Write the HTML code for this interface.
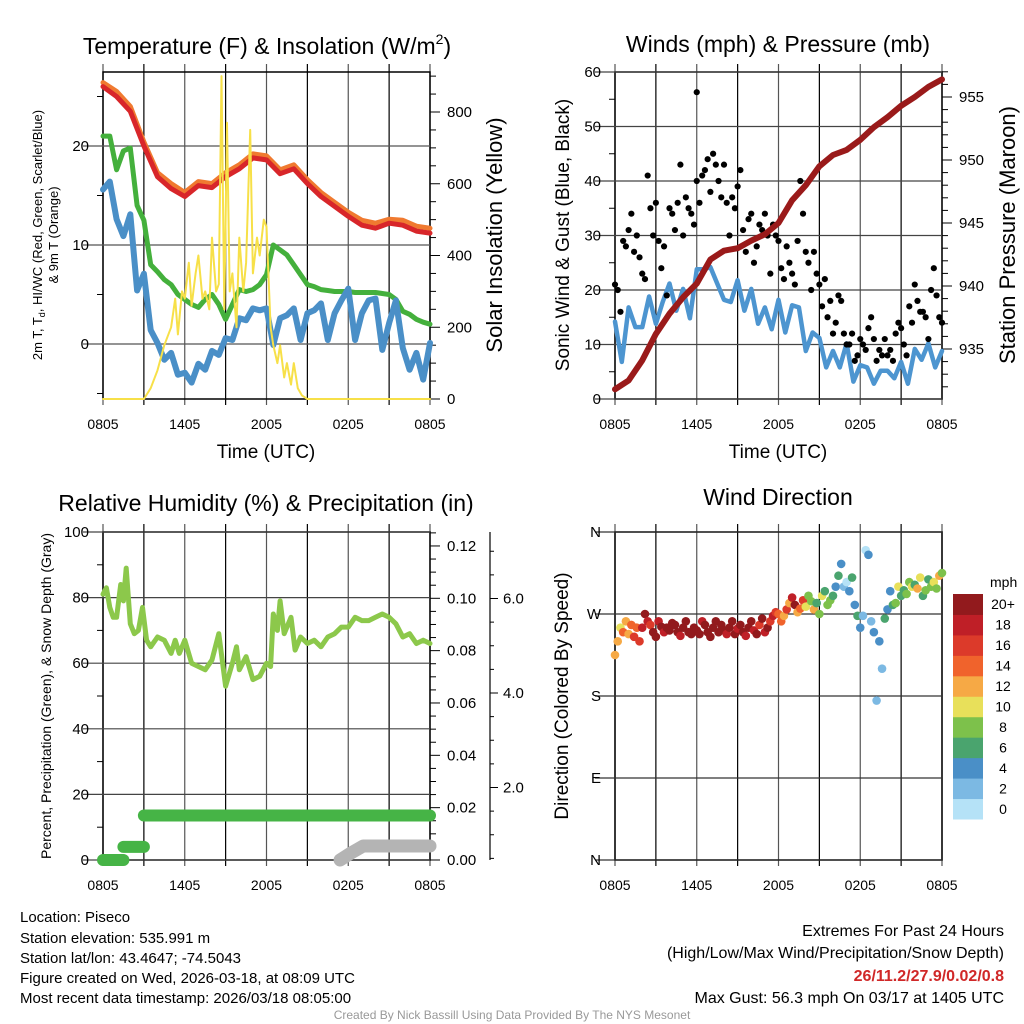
<!DOCTYPE html>
<html><head><meta charset="utf-8"><style>
body{margin:0;background:#fff;}
svg{display:block;font-family:"Liberation Sans",Arial,sans-serif;}
</style></head><body>
<svg id="root" width="1024" height="1024" viewBox="0 0 1024 1024" xmlns="http://www.w3.org/2000/svg">
<rect x="0" y="0" width="1024" height="1024" fill="#fff"/>
<text x="267" y="54" font-size="23" text-anchor="middle">Temperature (F) &amp; Insolation (W/m<tspan font-size="14" dy="-10">2</tspan><tspan dy="10">)</tspan></text>
<text x="778" y="52" font-size="23" text-anchor="middle">Winds (mph) &amp; Pressure (mb)</text>
<text x="266" y="511" font-size="23" text-anchor="middle">Relative Humidity (%) &amp; Precipitation (in)</text>
<text x="778" y="505" font-size="23" text-anchor="middle">Wind Direction</text>
<text x="266" y="458" font-size="19" text-anchor="middle">Time (UTC)</text>
<text x="778" y="458" font-size="19" text-anchor="middle">Time (UTC)</text>
<text transform="translate(42,235) rotate(-90)" font-size="13" text-anchor="middle">2m T, T<tspan font-size="9" dy="3">d</tspan><tspan dy="-3">, HI/WC (Red, Green, Scarlet/Blue)</tspan></text>
<text transform="translate(58,235) rotate(-90)" font-size="13" text-anchor="middle">&amp; 9m T (Orange)</text>
<text transform="translate(502,235) rotate(-90)" font-size="22" text-anchor="middle">Solar Insolation (Yellow)</text>
<text transform="translate(569,235) rotate(-90)" font-size="19" text-anchor="middle">Sonic Wind &amp; Gust (Blue, Black)</text>
<text transform="translate(1015,235) rotate(-90)" font-size="22" text-anchor="middle">Station Pressure (Maroon)</text>
<text transform="translate(51,696) rotate(-90)" font-size="14" text-anchor="middle">Percent, Precipitation (Green), &amp; Snow Depth (Gray)</text>
<text transform="translate(568,696) rotate(-90)" font-size="19" text-anchor="middle">Direction (Colored By Speed)</text>
<g font-size="15">
<text x="20" y="922">Location: Piseco</text>
<text x="20" y="943">Station elevation: 535.991 m</text>
<text x="20" y="963">Station lat/lon: 43.4647; -74.5043</text>
<text x="20" y="983">Figure created on Wed, 2026-03-18, at 08:09 UTC</text>
<text x="20" y="1003">Most recent data timestamp: 2026/03/18 08:05:00</text>
</g>
<g font-size="16" text-anchor="end">
<text x="1004" y="936">Extremes For Past 24 Hours</text>
<text x="1004" y="958">(High/Low/Max Wind/Precipitation/Snow Depth)</text>
<text x="1004" y="981" fill="#d02828" font-weight="bold">26/11.2/27.9/0.02/0.8</text>
<text x="1004" y="1003">Max Gust: 56.3 mph On 03/17 at 1405 UTC</text>
</g>
<text x="512" y="1019" font-size="12" fill="#999" text-anchor="middle">Created By Nick Bassill Using Data Provided By The NYS Mesonet</text>
</svg>
<script>
// ---------- data ----------
const xTickLabels = ["0805","1405","2005","0205","0805"];
const hourly = [0,1,2,3,4,5,6,7,8,9,10,11,12,13,14,15,16,17,18,19,20,21,22,23,24];
const tempRed = [26,25,23.5,20,16.9,15.7,14.9,16,15.8,16.9,17.7,18.8,18.6,17.2,17.7,16.2,14.9,13.9,12.9,12,11.7,12.2,12,11.4,11.2];
const temp9m = [26.4,25.5,24,20.4,17.3,16.2,15.3,16.4,16.2,17.3,18.1,19.2,19,17.6,18.1,16.6,15.3,14.3,13.3,12.5,12.2,12.6,12.5,11.9,11.7];
const halfHours = [0,0.5,1,1.5,2,2.5,3,3.5,4,4.5,5,5.5,6,6.5,7,7.5,8,8.5,9,9.5,10,10.5,11,11.5,12,12.5,13,13.5,14,14.5,15,15.5,16,16.5,17,17.5,18,18.5,19,19.5,20,20.5,21,21.5,22,22.5,23,23.5,24];
const dewGreen = [21,21,17.6,19.5,19.8,14,12.5,8,7.3,6.5,6,5,4.5,4,3.7,4.5,5,4,2.5,4,5.5,5.3,5.5,6,7,10,9.5,9,8,7,6,5.8,5.5,5.4,5.3,5.3,5.3,5.2,5.2,5.2,5.2,5.1,5,4.5,3.3,3,2.5,2.2,2];
const windChill = [15,17,12,11.5,12.5,6,6.5,2,-0.5,-1,-1.5,-2.5,-3.5,-3.3,-2.6,-2,-1.3,-0.5,0,1,2,3,3,4,3,0.5,2,3.5,3,1,2.5,4,3.5,1,2.5,5,5,1,2.5,5,4,0,1.5,5,-1,-2,-1.5,-3,-0.5];
const chillWiggle = [1,-1,1,-1,1,-1,1,-1,1,-1,1,-1,1,-1,1,-1,1,-1,1,-1,1,-1,1,-1,1,-1,1,-1,1,-1,1,-1,1,-1,1,-1,1,-1,1,-1,1,-1,1,-1,1,-1,1,-1,1];
const solarTimes = [0,3,3.5,4,4.5,5,5.3,5.5,5.8,6,6.3,6.5,6.8,7,7.3,7.5,7.8,8,8.3,8.5,8.7,8.9,9.1,9.3,9.5,9.8,10,10.3,10.5,10.8,11,11.3,11.5,11.8,12,12.3,12.5,12.8,13,13.3,13.5,13.8,14,14.3,14.6,15,24];
const solarVals = [0,0,30,80,150,200,280,180,300,280,380,260,350,400,280,300,250,450,300,320,900,250,770,300,350,200,450,300,380,750,350,450,400,500,480,200,150,100,150,60,100,40,100,30,10,0,0];
const windTimes = halfHours;
const windSpeed = [13,8,16,14,12,20,13,19,20,17,19,16,23,25,23,22,17,19,21,17,19,15,16,14,17,13,16,18,8,13,10,7,8,7,9,4,5,7,2,6,4,5,6,4,8,8,9,7,8];
const windWiggle = [3,-3,2,-2,3,-3,2,-3,3,-2,3,-3,2,-3,3,-2,3,-3,2,-2,3,-3,2,-3,3,-2,3,-3,2,-2,3,-3,2,-3,3,-2,3,-3,2,-2,3,-3,2,-3,3,-2,3,-3,2];
const gustVals = [21,20,16,29,28,31,34,27,30,26, 23,22,41,35,30,36,29,24,28,19, 35,34,31,36,43,30,37,35,34,32, 40,36,41,42,44,38,45,43,40,37, 43,36,30,37,35,39,42,31,27,33, 34,25,28,32,31,34,30,23,32,30, 29,24,22,28,25,23,21,29,40,34, 27,25,20,27,23,21,17,22,15,18, 12,14,19,18,12,10,10,12,7,8, 11,10,9,13,15,11,7,9,8,11, 8,9,7,12,14,13,10,8,17,14, 21,18,16,16,15,11,20,24,19,15, 14];
const maxGust = 56.3, maxGustHour = 6;
const pressure = [931.8,932.5,934.1,936.2,937.8,939.1,940.2,942.1,942.8,943,943.6,944.1,945,946.8,948,949.5,950.4,950.8,951.6,952.6,953.4,954.3,955,955.8,956.4];
const rhTimes = [0,0.25,0.5,0.75,1,1.3,1.5,1.7,2,2.3,2.6,2.9,3.2,3.5,4,4.5,5,5.3,5.6,6,6.5,7,7.5,8,8.5,9,9.5,9.8,10,10.5,11,11.5,12,12.3,12.5,12.8,13,13.3,13.8,14.1,14.5,15,15.5,16,16.5,17,17.5,18,18.5,19,19.5,20,20.5,21,21.5,22,22.5,23,23.5,24];
const rhVals = [81,83,77,74,74,84,79,89,72,69,70,77,67,65,68,67,63,67,63,67,60,59,58,61,69,53,60,65,58,62,55,56,60,59,75,70,79,69,74,64,68,66,67,65,68,69,71,71,74,73,73,74,75,74,72,68,69,66,67,66];
const precipTimes = [0,1.5,1.5,3,3,24];
const precipVals = [0,0,0.005,0.005,0.017,0.017];
const snowTimes = [17.4,18.2,19.1,24];
const snowVals = [0,0.4,0.8,0.8];
const dirVals = [225,240,255,250,262,248,258,245,255,240, 255,270,262,258,250,245,262,256,250,255, 252,260,258,250,246,255,262,250,248,255, 252,248,262,258,250,245,255,262,250,258, 252,248,255,262,248,254,258,250,246,255, 262,252,248,258,265,250,255,262,268,272, 270,262,268,275,282,288,280,272,276,285, 278,290,284,275,282,270,290,295,280,285, 290,300,312,325,300,305,295,310,280,268, 255,268,340,335,262,250,175,240,210,265, 275,295,280,282,300,290,296,292,305,300, 302,298,310,290,296,308,300,305,298,312, 315];
const dirSpeeds = [12,13,11,14,13,12,15,16,14,17, 18,20,19,17,21,22,18,20,19,21, 22,20,23,21,18,22,24,20,21,23, 22,21,19,24,22,20,23,21,22,20, 23,18,21,22,20,19,22,21,18,20, 21,19,22,17,20,18,21,16,19,17, 14,15,12,16,13,18,20,12,14,16, 10,8,9,12,7,8,10,6,9,8, 6,5,7,4,2,1,4,6,5,7, 4,2,1,4,2,5,2,4,3,6, 4,5,6,8,10,7,6,8,9,10, 6,12,11,7,8,6,9,10,8,12, 9];
const speedBins = ["0","2","4","6","8","10","12","14","16","18","20+"];
const speedColors = ["#b5e2f7","#7cb9e3","#4a8fc7","#4aa46e","#7dc14b","#e8e05a","#f6a945","#f0632c","#dc3a2a","#bf1f27","#921a1d"];

// ---------- helpers ----------
const NS = "http://www.w3.org/2000/svg";
const root = document.getElementById("root");
function mk(tag, attrs, parent) {
  const e = document.createElementNS(NS, tag);
  for (const k in attrs) e.setAttribute(k, attrs[k]);
  (parent || root).appendChild(e);
  return e;
}
function X(x0, h) { return x0 + h * (327 / 24); }

function frame(x0, y0, y1, name) {
  const g = mk("g", {});
  
  
  for (let i = 0; i <= 8; i++) {
    const x = X(x0, i * 3);
    const l = mk("line", {x1: x, x2: x, y1: y0 - 8, y2: y1 + 6, stroke: i % 2 ? "#000" : "#555", "stroke-width": 1.2}, g);
    
    
    if (i % 2 === 0) {
      const t = mk("text", {x: x, y: y1 + 30, "font-size": 14, "text-anchor": "middle"}, g);
      t.textContent = xTickLabels[i / 2];
      
      
    }
  }
  const r = mk("rect", {x: x0, y: y0, width: 327, height: y1 - y0, fill: "none", stroke: "#000", "stroke-width": 1.5}, g);
  
  
  return g;
}
function hgrid(g, x0, y, label, color, name) {
  const l = mk("line", {x1: x0 - 20, x2: x0 + 327, y1: y, y2: y, stroke: color || "#444", "stroke-width": 1.2}, g);
  
  
  const t = mk("text", {x: x0 - 14, y: y + 5, "font-size": 15, "text-anchor": "end"}, g);
  t.textContent = label;
  
  
}
function tick(g, x, y, len) {
  const l = mk("line", {x1: x, x2: x + len, y1: y, y2: y, stroke: "#000", "stroke-width": 1}, g);
  
  
}
function rlabel(g, x, y, txt) {
  const t = mk("text", {x: x, y: y + 5, "font-size": 15}, g);
  t.textContent = txt;
  
  
}
function path(pts, attrs, name) {
  const d = pts.map((p, i) => (i ? "L" : "M") + p[0].toFixed(1) + "," + p[1].toFixed(1)).join("");
  const p = mk("path", Object.assign({d: d, fill: "none", "stroke-linejoin": "round", "stroke-linecap": "round"}, attrs));
  
  
  return p;
}
function dot(x, y, r, fill, name) {
  const c = mk("circle", {cx: x, cy: y, r: r, fill: fill});
  
  
  return c;
}

// ---------- panel 1: temperature ----------
(function () {
  const x0 = 103, y0 = 72, y1 = 399;
  const T = v => 344 - v * 9.9;
  const S = v => 399 - v * 0.35875;
  const g = frame(x0, y0, y1, "temperature");
  [[20, "20"], [10, "10"], [0, "0"]].forEach(a => hgrid(g, x0, T(a[0]), a[1], "#555"));
  [-5, 5, 15, 25].forEach(v => tick(g, x0 - 6, T(v), 6));
  for (let v = 0; v <= 900; v += 50) tick(g, x0 + 327, S(v), v % 200 === 0 ? 10 : 6);
  [0, 200, 400, 600, 800].forEach(v => rlabel(g, x0 + 344, S(v), String(v)));
  path(hourly.map((h, i) => [X(x0, h), T(temp9m[i])]), {stroke: "#f07a30", "stroke-width": 5}, "nine-meter-temp-line");
  path(hourly.map((h, i) => [X(x0, h), T(tempRed[i])]), {stroke: "#d8262a", "stroke-width": 5}, "two-meter-temp-line");
  path(halfHours.map((h, i) => [X(x0, h), T(dewGreen[i])]), {stroke: "#44b03c", "stroke-width": 5}, "dewpoint-line");
  path(halfHours.map((h, i) => [X(x0, h), T(windChill[i] + chillWiggle[i] * 0.6)]), {stroke: "#4a8fc7", "stroke-width": 6}, "wind-chill-line");
  path(solarTimes.map((h, i) => [X(x0, h), S(solarVals[i])]), {stroke: "#f7e048", "stroke-width": 2}, "solar-insolation-line");
})();

// ---------- panel 2: winds ----------
(function () {
  const x0 = 615, y0 = 72, y1 = 399;
  const W = v => 399 - v * 5.45;
  const P = v => 349 - (v - 935) * 12.6;
  const g = frame(x0, y0, y1, "winds");
  [60, 50, 40, 30, 20, 10, 0].forEach(v => hgrid(g, x0, W(v), String(v), "#444"));
  [5, 15, 25, 35, 45, 55].forEach(v => tick(g, x0 - 6, W(v), 6));
  for (let v = 932; v <= 957; v++) tick(g, x0 + 327, P(v), v % 5 === 0 ? 10 : 6);
  [935, 940, 945, 950, 955].forEach(v => rlabel(g, x0 + 344, P(v), String(v)));
  path(windTimes.map((h, i) => [X(x0, h), W(Math.max(0.5, windSpeed[i] + windWiggle[i] * 0.4))]), {stroke: "#4d95d0", "stroke-width": 4.5}, "sonic-wind-line");
  gustVals.forEach((v, i) => dot(X(x0, i * 0.2), W(v), 3.1, "#000", "gust-point"));
  dot(X(x0, maxGustHour), W(maxGust), 3.1, "#000", "max-gust-point");
  path(hourly.map((h, i) => [X(x0, h), P(pressure[i])]), {stroke: "#9a1a1a", "stroke-width": 6}, "station-pressure-line");
})();

// ---------- panel 3: humidity ----------
(function () {
  const x0 = 103, y0 = 532, y1 = 860;
  const R = v => 860 - v * 3.28;
  const PR = v => 860 - v * 2617;
  const SN = v => 882 - v * 47.25;
  const SNd = v => 860 - v * 17.5;
  const g = frame(x0, y0, y1, "humidity");
  [100, 80, 60, 40, 20, 0].forEach(v => hgrid(g, x0, R(v), String(v), "#444"));
  [10, 30, 50, 70, 90].forEach(v => tick(g, x0 - 6, R(v), 6));
  for (let v = 0; v <= 0.1251; v += 0.005) tick(g, x0 + 327, PR(v), Math.round(v * 1000) % 20 === 0 ? 10 : 6);
  [0, 0.02, 0.04, 0.06, 0.08, 0.1, 0.12].forEach(v => rlabel(g, x0 + 344, PR(v), v.toFixed(2)));
  const ax = mk("line", {x1: 490, x2: 490, y1: 532, y2: 860, stroke: "#000", "stroke-width": 1.2}, g);
  
  
  for (let v = 0.5; v <= 7; v += 0.5) tick(g, 490, SN(v), v % 2 === 0 ? 8 : 4);
  [2, 4, 6].forEach(v => rlabel(g, 503, SN(v), v.toFixed(1)));
  path(rhTimes.map((h, i) => [X(x0, h), R(rhVals[i])]), {stroke: "#8cc84b", "stroke-width": 5}, "relative-humidity-line");
  const segs = [];
  for (let i = 0; i < precipTimes.length; i += 2) segs.push([i, i + 1]);
  segs.forEach(s => path([[X(x0, precipTimes[s[0]]), PR(precipVals[s[0]])], [X(x0, precipTimes[s[1]]), PR(precipVals[s[1]])]], {stroke: "#46b446", "stroke-width": 12}, "precipitation-bar"));
  path(snowTimes.map((h, i) => [X(x0, h), SNd(snowVals[i])]), {stroke: "#b4b4b4", "stroke-width": 13}, "snow-depth-line");
})();

// ---------- panel 4: wind direction ----------
(function () {
  const x0 = 615, y0 = 532, y1 = 860;
  const D = v => 860 - v * (328 / 360);
  const g = frame(x0, y0, y1, "direction");
  [[360, "N"], [270, "W"], [180, "S"], [90, "E"], [0, "N"]].forEach(a => hgrid(g, x0, D(a[0]), a[1], "#333", "direction-tick-label"));
  dirVals.forEach((d, i) => {
    const s = dirSpeeds[i];
    const bin = Math.min(10, Math.floor(s / 2));
    dot(X(x0, i * 0.2), D(d), 4.3, speedColors[bin], "wind-direction-point");
  });
  const lg = mk("g", {});
  
  
  const t = mk("text", {x: 990, y: 587, "font-size": 14}, lg);
  t.textContent = "mph";
  
  
  const h = 225 / speedBins.length;
  speedBins.forEach((b, i) => {
    const y = 594 + (speedBins.length - 1 - i) * h;
    const r = mk("rect", {x: 953, y: y, width: 30, height: h + 0.5, fill: speedColors[i]}, lg);
    
    
    const tt = mk("text", {x: 1003, y: y + h / 2 + 5, "font-size": 14, "text-anchor": "middle"}, lg);
    tt.textContent = b;
    
    
  });
})();
</script>
</body></html>
